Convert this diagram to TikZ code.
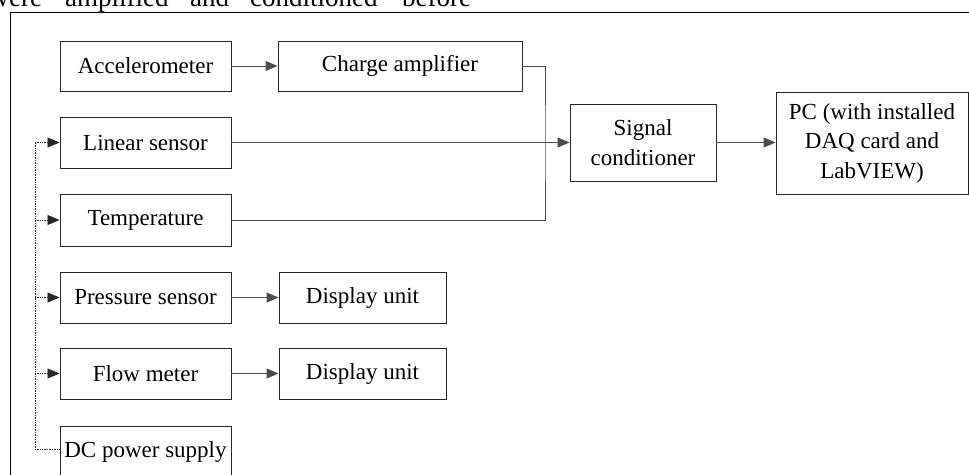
\documentclass[tikz,border=0pt]{standalone}
\usepackage{fontspec}
\setmainfont{Liberation Serif}
\usetikzlibrary{arrows.meta}
\begin{document}
\begin{tikzpicture}[x=1pt,y=-1pt,
  blk/.style={draw=black!85, line width=0.9pt, inner sep=0pt,
    minimum height=51pt, font=\fontsize{23}{29.5}\selectfont, align=center},
  wire/.style={draw=black!70, line width=0.9pt},
  tip/.style={-{Triangle[length=12pt,width=10pt]}},
  feed/.style={wire, tip},
  pwr/.style={draw=black!85, line width=0.7pt, densely dotted, tip},
  capword/.style={anchor=base west, inner sep=0pt, font=\fontsize{27}{30}\selectfont}]
\useasboundingbox (0,0) rectangle (969,474);
\clip (0,0) rectangle (969,474);

% running text above the figure
\node[capword] (w1) at (-10.5,6.5) {were};
\node[capword] (w2) at (65,6.5) {amplified};
\node[capword] (w3) at (190,6.5) {and};
\node[capword] (w4) at (250,6.5) {conditioned};
\node[capword] (w5) at (402,6.5) {before};

% figure frame
\draw[line width=1pt] (10,495) -- (10,12) -- (995,12);

% sensor column
\node[blk, minimum width=171pt, minimum height=50pt] (acc) at (145.5,66) {Accelerometer};
\node[blk, minimum width=171pt] (lin) at (145.5,142.5) {Linear sensor};
\node[blk, minimum width=171pt, minimum height=52pt] (tmp) at (145.5,220) {Temperature};
\node[blk, minimum width=171pt] (prs) at (145.5,297.5) {Pressure sensor};
\node[blk, minimum width=171pt] (flw) at (145.5,373.5) {Flow meter};
\node[blk, minimum width=171pt] (dcp) at (145.5,451.5) {DC power supply};

% second column
\node[blk, minimum width=244pt, minimum height=50pt] (chg) at (400,66) {Charge amplifier};
\node[blk, minimum width=167pt] (du1) at (362.5,297.5) {Display unit};
\node[blk, minimum width=167pt] (du2) at (362.5,373.5) {Display unit};

% conditioning and acquisition
\node[blk, minimum width=146pt, minimum height=77pt] (sig) at (643,142.5) {Signal\\conditioner};
\node[blk, minimum width=192pt, minimum height=102pt] (pc) at (872,143) {PC (with installed\\DAQ card and\\LabVIEW)};

% signal paths
\coordinate (bus) at (545,142.5);
\draw[feed] (acc.east) -- (chg.west);
\draw[wire] (chg.east) -| (bus) |- (tmp.east);
\draw[feed] (lin.east) -- (sig.west);
\draw[feed] (sig.east) -- (pc.west |- sig.east);
\draw[feed] (prs.east) -- (du1.west);
\draw[feed] (flw.east) -- (du2.west);

% power distribution
\coordinate (rail) at (35,449);
\coordinate (railtop) at (35,142.5);
\draw[draw=black!85, line width=0.7pt, densely dotted] (dcp.west |- rail) -- (rail) -- (railtop);
\draw[pwr] (railtop) -- (lin.west);
\draw[pwr] (35,220) -- (tmp.west);
\draw[pwr] (35,297.5) -- (prs.west);
\draw[pwr] (35,373.5) -- (flw.west);
\end{tikzpicture}
\end{document}
